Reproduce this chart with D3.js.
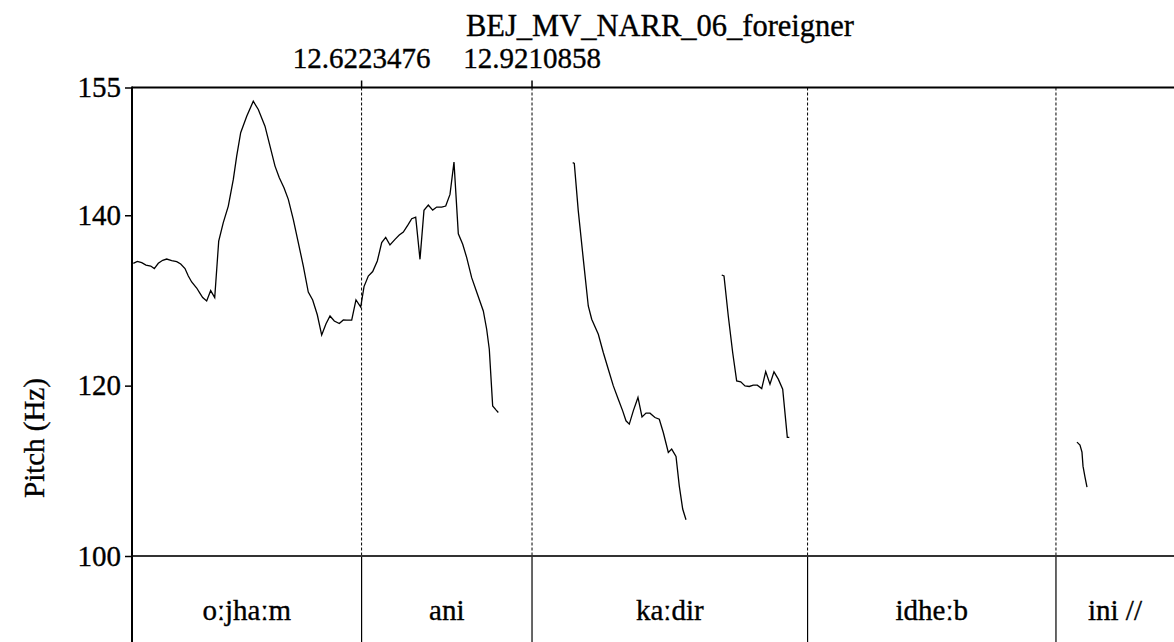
<!DOCTYPE html>
<html>
<head>
<meta charset="utf-8">
<script src="https://cdn.jsdelivr.net/npm/d3@7"></script>
<style>
  body { margin: 0; background: #fff; }
  text { font-family: "Liberation Serif", "Times New Roman", Times, serif; stroke: #000; stroke-width: 0.35px; }
</style>
</head>
<body>
<script>
var title = "BEJ_MV_NARR_06_foreigner";
var yTicks = [100, 120, 140, 155];
var markedTimes = [12.6223476, 12.9210858];
var boundaries = [12.6223476, 12.9210858, 13.4041, 13.8395];
var intervalStarts = [12.2199, 12.6223476, 12.9210858, 13.4041, 13.8395];
var intervalEnds = [12.6223476, 12.9210858, 13.4041, 13.8395, 14.0464];
var labels = ["o\u02D0jha\u02D0m", "ani", "ka\u02D0dir", "idhe\u02D0b", "ini //"];

// pitch contour pieces, [time (s), pitch (Hz)]
var contour1 = [
  [12.2222,134.36],[12.2292,134.59],[12.2369,134.44],[12.2444,134.16],[12.2527,134.04],
  [12.2590,133.74],[12.2660,134.36],[12.2737,134.71],[12.2807,134.86],[12.2895,134.68],
  [12.2983,134.56],[12.3053,134.28],[12.3128,133.74],[12.3186,132.87],[12.3245,132.17],
  [12.3333,131.46],[12.3391,130.84],[12.3438,130.34],[12.3508,129.94],[12.3578,131.16],
  [12.3649,130.34],[12.3719,136.97],[12.3799,139.13],[12.3887,141.08],[12.3975,144.21],
  [12.4034,146.94],[12.4104,149.69],[12.4210,151.63],[12.4325,153.39],[12.4413,152.42],
  [12.4530,150.46],[12.4618,148.12],[12.4706,145.77],[12.4781,144.41],[12.4863,143.24],
  [12.4939,141.87],[12.5026,139.52],[12.5114,136.79],[12.5202,134.04],[12.5289,130.99],
  [12.5366,130.06],[12.5447,128.32],[12.5524,125.94],[12.5600,127.26],[12.5670,128.18],
  [12.5745,127.59],[12.5833,127.29],[12.5903,127.71],[12.5962,127.68],[12.6050,127.68],
  [12.6125,130.06],[12.6208,129.23],[12.6266,131.63],[12.6341,132.87],[12.6418,133.39],
  [12.6499,134.63],[12.6576,136.79],[12.6646,137.41],[12.6721,136.51],[12.6809,137.17],
  [12.6884,137.68],[12.6955,138.03],[12.7042,138.93],[12.7102,139.60],[12.7172,139.79],
  [12.7247,134.83],[12.7317,140.58],[12.7393,141.20],[12.7470,140.61],[12.7540,140.96],
  [12.7628,140.96],[12.7698,141.08],[12.7773,142.45],[12.7843,146.24],[12.7919,137.82],
  [12.7996,136.59],[12.8066,135.03],[12.8153,132.68],[12.8259,130.64],[12.8357,128.77],
  [12.8416,126.62],[12.8462,124.27],[12.8521,117.62],[12.8579,117.16],[12.8620,116.85]
];
var contour2 = [
  [12.9924,146.17],[12.9952,146.09],[13.0022,140.49],[13.0110,134.83],[13.0197,129.35],
  [13.0257,127.79],[13.0373,126.03],[13.0460,123.89],[13.0548,121.93],[13.0636,119.97],
  [13.0723,118.41],[13.0800,117.04],[13.0858,115.87],[13.0916,115.48],[13.0986,117.04],
  [13.1068,118.61],[13.1139,116.33],[13.1209,116.77],[13.1279,116.77],[13.1366,116.26],
  [13.1442,116.06],[13.1512,114.50],[13.1600,112.16],[13.1659,112.55],[13.1735,111.69],
  [13.1792,108.24],[13.1852,105.51],[13.1910,104.26]
];
var contour3 = [
  [13.2536,132.99],[13.2576,132.87],[13.2651,128.18],[13.2728,123.89],[13.2798,120.56],
  [13.2869,120.44],[13.2944,119.97],[13.3019,119.90],[13.3089,120.05],[13.3160,120.05],
  [13.3237,119.66],[13.3307,121.66],[13.3382,120.17],[13.3452,121.61],[13.3528,120.76],
  [13.3605,119.58],[13.3686,113.92],[13.3721,113.92]
];
var contour4 = [
  [13.8763,113.37],[13.8816,113.02],[13.8851,112.19],[13.8869,110.55],[13.8904,109.26],[13.8939,108.09]
];

var width = 1174, height = 642;
var plotLeft = 132, plotRight = 1174, plotTop = 87.5, plotBottom = 556;
var serif = "Liberation Serif, Times New Roman, serif";

var x = d3.scaleLinear().domain([12.2199, 14.0464]).range([plotLeft, plotRight]);
var y = d3.scaleLinear().domain([100, 155]).range([plotBottom, plotTop]);

var svg = d3.select("body").append("svg")
    .attr("width", width)
    .attr("height", height)
    .attr("font-family", serif);

// dashed boundary lines across pitch area
svg.selectAll("line.bound")
    .data(boundaries)
    .enter().append("line")
    .attr("class", "bound")
    .attr("x1", function(d) { return x(d); })
    .attr("x2", function(d) { return x(d); })
    .attr("y1", plotTop)
    .attr("y2", plotBottom)
    .attr("stroke", "#000")
    .attr("stroke-width", 1)
    .attr("stroke-dasharray", "3,2");

// tier lines
svg.selectAll("line.tier")
    .data(boundaries)
    .enter().append("line")
    .attr("class", "tier")
    .attr("x1", function(d) { return x(d); })
    .attr("x2", function(d) { return x(d); })
    .attr("y1", plotBottom)
    .attr("y2", height)
    .attr("stroke", "#000")
    .attr("stroke-width", 1.2);

// ticks over the marked times
svg.selectAll("line.mark")
    .data(markedTimes)
    .enter().append("line")
    .attr("class", "mark")
    .attr("x1", function(d) { return x(d); })
    .attr("x2", function(d) { return x(d); })
    .attr("y1", plotTop - 7)
    .attr("y2", plotTop)
    .attr("stroke", "#000")
    .attr("stroke-width", 1.5);

svg.selectAll("text.mark")
    .data(markedTimes)
    .enter().append("text")
    .attr("class", "mark")
    .attr("x", function(d) { return x(d); })
    .attr("y", 68)
    .attr("text-anchor", "middle")
    .attr("font-size", 29)
    .text(function(d) { return d.toFixed(7); });

svg.append("text")
    .attr("x", 660)
    .attr("y", 36)
    .attr("text-anchor", "middle")
    .attr("font-size", 30.5)
    .text(title);

// frame lines
svg.append("line")
    .attr("x1", plotLeft).attr("x2", plotRight)
    .attr("y1", plotTop).attr("y2", plotTop)
    .attr("stroke", "#000").attr("stroke-width", 2);
svg.append("line")
    .attr("x1", plotLeft).attr("x2", plotRight)
    .attr("y1", plotBottom).attr("y2", plotBottom)
    .attr("stroke", "#333").attr("stroke-width", 1.8);

// y axis
var yAxis = d3.axisLeft(y).tickValues(yTicks).tickSize(7).tickPadding(4);
var ga = svg.append("g")
    .attr("transform", "translate(" + plotLeft + ",0)")
    .call(yAxis)
    .attr("font-family", serif)
    .attr("font-size", 29);
ga.select(".domain").remove();
ga.selectAll(".tick line").attr("stroke", "#000").attr("stroke-width", 1.5);
ga.selectAll(".tick text").attr("fill", "#000");

svg.append("line")
    .attr("x1", plotLeft).attr("x2", plotLeft)
    .attr("y1", plotTop - 1).attr("y2", height)
    .attr("stroke", "#000").attr("stroke-width", 2);

svg.append("text")
    .attr("transform", "translate(44,438) rotate(-90)")
    .attr("text-anchor", "middle")
    .attr("font-size", 29)
    .text("Pitch (Hz)");

// pitch contours
var line = d3.line()
    .x(function(d) { return x(d[0]); })
    .y(function(d) { return y(d[1]); });

svg.selectAll("path.pitch")
    .data([contour1, contour2, contour3, contour4])
    .enter().append("path")
    .attr("class", "pitch")
    .attr("d", line)
    .attr("fill", "none")
    .attr("stroke", "#000")
    .attr("stroke-width", 1.3);

// tier labels
svg.selectAll("text.lab")
    .data(labels)
    .enter().append("text")
    .attr("class", "lab")
    .attr("x", function(d, i) { return (x(intervalStarts[i]) + x(intervalEnds[i])) / 2; })
    .attr("y", 620)
    .attr("text-anchor", "middle")
    .attr("font-size", 29)
    .text(function(d) { return d; });
</script>
</body>
</html>
